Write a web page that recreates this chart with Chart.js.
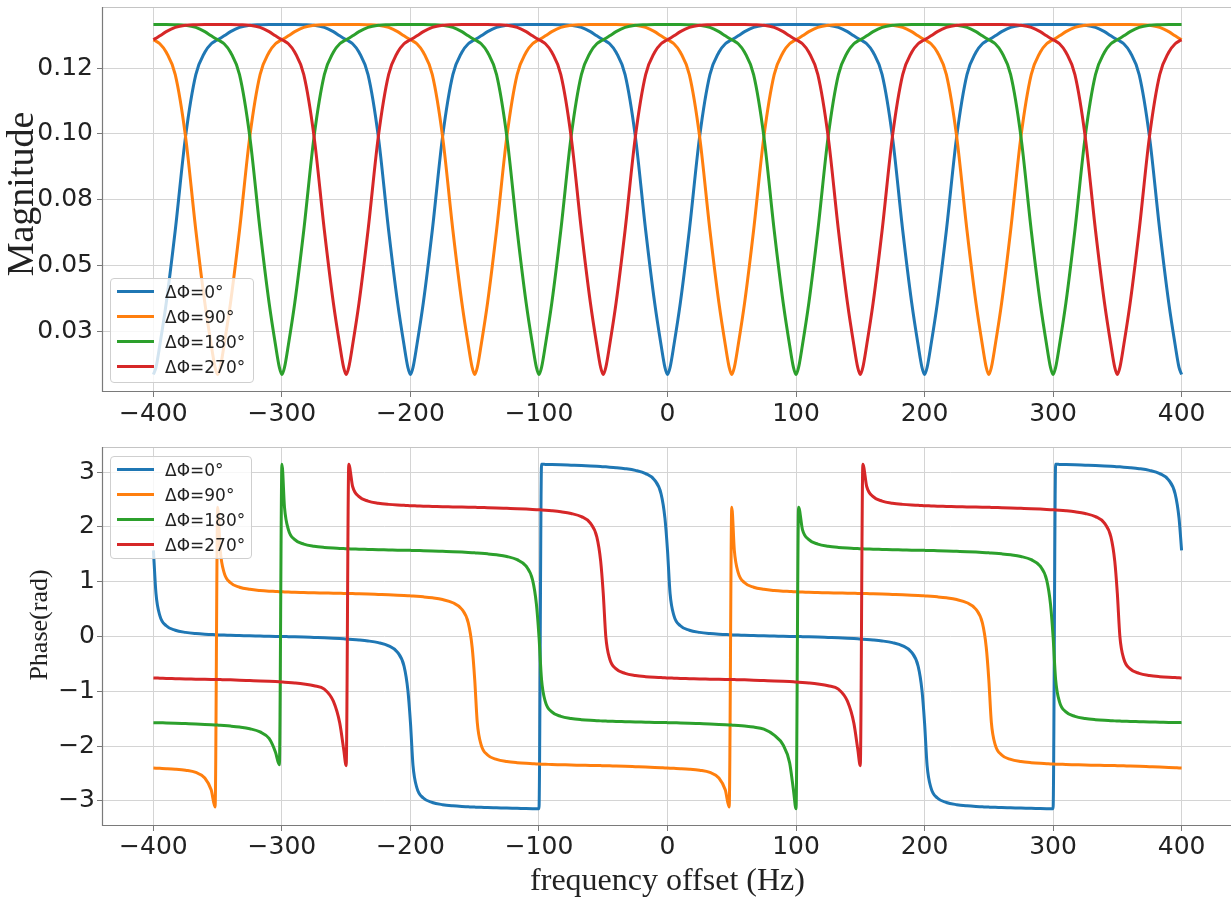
<!DOCTYPE html>
<html>
<head>
<meta charset="utf-8">
<script src="https://cdn.jsdelivr.net/npm/chart.js@4/dist/chart.umd.min.js"></script>
<style>
html,body{margin:0;padding:0;background:#fff;overflow:hidden;width:1231px;height:899px;}
#wrap{position:relative;width:1231px;height:899px;overflow:hidden;}
#wrap canvas{position:absolute;left:0;}
#c1{top:0;}
#c2{top:440px;}
.legend{position:absolute;background:rgba(255,255,255,0.8);border:1px solid #cfcfcf;border-radius:4px;box-sizing:border-box;font-family:'DejaVu Sans',sans-serif;font-size:17px;color:#222;z-index:5;}
.legend .sw{position:absolute;left:6px;width:37px;height:3px;}
.legend .tx{position:absolute;left:54px;white-space:nowrap;line-height:20px;}
</style>
</head>
<body>
<div id="wrap">
<canvas id="c1" width="1240" height="440"></canvas>
<canvas id="c2" width="1240" height="459"></canvas>
<div id="leg1" class="legend" style="left:110px;top:278px;width:144px;height:105px;"></div>
<div id="leg2" class="legend" style="left:110px;top:456px;width:142px;height:103px;"></div>
</div>
<script>
// ---------- data ----------
const freq = [
-400,-398,-395,-390,-383,-375,-367,-360,-355,-352,
-350,-348,-345,-340,-333,-325,-317,-310,-305,-302,
-300,-298,-295,-290,-283,-275,-267,-260,-255,-252,
-250,-248,-245,-240,-233,-225,-217,-210,-205,-202,
-200,-198,-195,-190,-183,-175,-167,-160,-155,-152,
-150,-148,-145,-140,-133,-125,-117,-110,-105,-102,
-100,-98,-95,-90,-83,-75,-67,-60,-55,-52,
-50,-48,-45,-40,-33,-25,-17,-10,-5,-2,
0,2,5,10,17,25,33,40,45,48,
50,52,55,60,67,75,83,90,95,98,
100,102,105,110,117,125,133,140,145,148,
150,152,155,160,167,175,183,190,195,198,
200,202,205,210,217,225,233,240,245,248,
250,252,255,260,267,275,283,290,295,298,
300,302,305,310,317,325,333,340,345,348,
350,352,355,360,367,375,383,390,395,398,
400];

const magBlue = [
0.0088,0.0115,0.020,0.036,0.0635,0.099,0.1225,0.1310,0.1342,0.1352,
0.1357,0.1363,0.1372,0.1388,0.1404,0.1412,0.1414,0.1415,0.1415,0.1415,
0.1415,0.1415,0.1415,0.1415,0.1414,0.1412,0.1404,0.1388,0.1372,0.1363,
0.1357,0.1352,0.1342,0.1310,0.1225,0.099,0.0635,0.036,0.020,0.0115,
0.0088,0.0115,0.020,0.036,0.0635,0.099,0.1225,0.1310,0.1342,0.1352,
0.1357,0.1363,0.1372,0.1388,0.1404,0.1412,0.1414,0.1415,0.1415,0.1415,
0.1415,0.1415,0.1415,0.1415,0.1414,0.1412,0.1404,0.1388,0.1372,0.1363,
0.1357,0.1352,0.1342,0.1310,0.1225,0.099,0.0635,0.036,0.020,0.0115,
0.0088,0.0115,0.020,0.036,0.0635,0.099,0.1225,0.1310,0.1342,0.1352,
0.1357,0.1363,0.1372,0.1388,0.1404,0.1412,0.1414,0.1415,0.1415,0.1415,
0.1415,0.1415,0.1415,0.1415,0.1414,0.1412,0.1404,0.1388,0.1372,0.1363,
0.1357,0.1352,0.1342,0.1310,0.1225,0.099,0.0635,0.036,0.020,0.0115,
0.0088,0.0115,0.020,0.036,0.0635,0.099,0.1225,0.1310,0.1342,0.1352,
0.1357,0.1363,0.1372,0.1388,0.1404,0.1412,0.1414,0.1415,0.1415,0.1415,
0.1415,0.1415,0.1415,0.1415,0.1414,0.1412,0.1404,0.1388,0.1372,0.1363,
0.1357,0.1352,0.1342,0.1310,0.1225,0.099,0.0635,0.036,0.020,0.0115,
0.0088];

const magOrange = [
0.1357,0.1352,0.1342,0.1310,0.1225,0.099,0.0635,0.036,0.020,0.0115,
0.0088,0.0115,0.020,0.036,0.0635,0.099,0.1225,0.1310,0.1342,0.1352,
0.1357,0.1363,0.1372,0.1388,0.1404,0.1412,0.1414,0.1415,0.1415,0.1415,
0.1415,0.1415,0.1415,0.1415,0.1414,0.1412,0.1404,0.1388,0.1372,0.1363,
0.1357,0.1352,0.1342,0.1310,0.1225,0.099,0.0635,0.036,0.020,0.0115,
0.0088,0.0115,0.020,0.036,0.0635,0.099,0.1225,0.1310,0.1342,0.1352,
0.1357,0.1363,0.1372,0.1388,0.1404,0.1412,0.1414,0.1415,0.1415,0.1415,
0.1415,0.1415,0.1415,0.1415,0.1414,0.1412,0.1404,0.1388,0.1372,0.1363,
0.1357,0.1352,0.1342,0.1310,0.1225,0.099,0.0635,0.036,0.020,0.0115,
0.0088,0.0115,0.020,0.036,0.0635,0.099,0.1225,0.1310,0.1342,0.1352,
0.1357,0.1363,0.1372,0.1388,0.1404,0.1412,0.1414,0.1415,0.1415,0.1415,
0.1415,0.1415,0.1415,0.1415,0.1414,0.1412,0.1404,0.1388,0.1372,0.1363,
0.1357,0.1352,0.1342,0.1310,0.1225,0.099,0.0635,0.036,0.020,0.0115,
0.0088,0.0115,0.020,0.036,0.0635,0.099,0.1225,0.1310,0.1342,0.1352,
0.1357,0.1363,0.1372,0.1388,0.1404,0.1412,0.1414,0.1415,0.1415,0.1415,
0.1415,0.1415,0.1415,0.1415,0.1414,0.1412,0.1404,0.1388,0.1372,0.1363,
0.1357];

const magGreen = [
0.1415,0.1415,0.1415,0.1415,0.1414,0.1412,0.1404,0.1388,0.1372,0.1363,
0.1357,0.1352,0.1342,0.1310,0.1225,0.099,0.0635,0.036,0.020,0.0115,
0.0088,0.0115,0.020,0.036,0.0635,0.099,0.1225,0.1310,0.1342,0.1352,
0.1357,0.1363,0.1372,0.1388,0.1404,0.1412,0.1414,0.1415,0.1415,0.1415,
0.1415,0.1415,0.1415,0.1415,0.1414,0.1412,0.1404,0.1388,0.1372,0.1363,
0.1357,0.1352,0.1342,0.1310,0.1225,0.099,0.0635,0.036,0.020,0.0115,
0.0088,0.0115,0.020,0.036,0.0635,0.099,0.1225,0.1310,0.1342,0.1352,
0.1357,0.1363,0.1372,0.1388,0.1404,0.1412,0.1414,0.1415,0.1415,0.1415,
0.1415,0.1415,0.1415,0.1415,0.1414,0.1412,0.1404,0.1388,0.1372,0.1363,
0.1357,0.1352,0.1342,0.1310,0.1225,0.099,0.0635,0.036,0.020,0.0115,
0.0088,0.0115,0.020,0.036,0.0635,0.099,0.1225,0.1310,0.1342,0.1352,
0.1357,0.1363,0.1372,0.1388,0.1404,0.1412,0.1414,0.1415,0.1415,0.1415,
0.1415,0.1415,0.1415,0.1415,0.1414,0.1412,0.1404,0.1388,0.1372,0.1363,
0.1357,0.1352,0.1342,0.1310,0.1225,0.099,0.0635,0.036,0.020,0.0115,
0.0088,0.0115,0.020,0.036,0.0635,0.099,0.1225,0.1310,0.1342,0.1352,
0.1357,0.1363,0.1372,0.1388,0.1404,0.1412,0.1414,0.1415,0.1415,0.1415,
0.1415];

const magRed = [
0.1357,0.1363,0.1372,0.1388,0.1404,0.1412,0.1414,0.1415,0.1415,0.1415,
0.1415,0.1415,0.1415,0.1415,0.1414,0.1412,0.1404,0.1388,0.1372,0.1363,
0.1357,0.1352,0.1342,0.1310,0.1225,0.099,0.0635,0.036,0.020,0.0115,
0.0088,0.0115,0.020,0.036,0.0635,0.099,0.1225,0.1310,0.1342,0.1352,
0.1357,0.1363,0.1372,0.1388,0.1404,0.1412,0.1414,0.1415,0.1415,0.1415,
0.1415,0.1415,0.1415,0.1415,0.1414,0.1412,0.1404,0.1388,0.1372,0.1363,
0.1357,0.1352,0.1342,0.1310,0.1225,0.099,0.0635,0.036,0.020,0.0115,
0.0088,0.0115,0.020,0.036,0.0635,0.099,0.1225,0.1310,0.1342,0.1352,
0.1357,0.1363,0.1372,0.1388,0.1404,0.1412,0.1414,0.1415,0.1415,0.1415,
0.1415,0.1415,0.1415,0.1415,0.1414,0.1412,0.1404,0.1388,0.1372,0.1363,
0.1357,0.1352,0.1342,0.1310,0.1225,0.099,0.0635,0.036,0.020,0.0115,
0.0088,0.0115,0.020,0.036,0.0635,0.099,0.1225,0.1310,0.1342,0.1352,
0.1357,0.1363,0.1372,0.1388,0.1404,0.1412,0.1414,0.1415,0.1415,0.1415,
0.1415,0.1415,0.1415,0.1415,0.1414,0.1412,0.1404,0.1388,0.1372,0.1363,
0.1357,0.1352,0.1342,0.1310,0.1225,0.099,0.0635,0.036,0.020,0.0115,
0.0088,0.0115,0.020,0.036,0.0635,0.099,0.1225,0.1310,0.1342,0.1352,
0.1357];

const phaseBlue = [
1.571,0.785,0.380,0.196,0.114,0.075,0.054,0.042,0.036,0.032,
0.030,0.028,0.026,0.021,0.017,0.012,0.008,0.004,0.002,0.001,
0.000,-0.001,-0.003,-0.006,-0.011,-0.018,-0.025,-0.032,-0.038,-0.042,
-0.045,-0.048,-0.053,-0.063,-0.081,-0.112,-0.170,-0.289,-0.539,-0.982,
-1.571,-2.357,-2.762,-2.946,-3.028,-3.067,-3.088,-3.100,-3.106,-3.110,
-3.112,-3.114,-3.116,-3.121,-3.125,-3.130,-3.134,-3.138,-3.140,-3.141,
-3.141,3.141,3.139,3.136,3.131,3.124,3.117,3.110,3.104,3.100,
3.097,3.094,3.089,3.079,3.061,3.030,2.972,2.853,2.603,2.160,
1.571,0.785,0.380,0.196,0.114,0.075,0.054,0.042,0.036,0.032,
0.030,0.028,0.026,0.021,0.017,0.012,0.008,0.004,0.002,0.001,
0.000,-0.001,-0.003,-0.006,-0.011,-0.018,-0.025,-0.032,-0.038,-0.042,
-0.045,-0.048,-0.053,-0.063,-0.081,-0.112,-0.170,-0.289,-0.539,-0.982,
-1.571,-2.357,-2.762,-2.946,-3.028,-3.067,-3.088,-3.100,-3.106,-3.110,
-3.112,-3.114,-3.116,-3.121,-3.125,-3.130,-3.134,-3.138,-3.140,-3.141,
-3.141,3.141,3.139,3.136,3.131,3.124,3.117,3.110,3.104,3.100,
3.097,3.094,3.089,3.079,3.061,3.030,2.972,2.853,2.603,2.160,
1.571];

const phaseOrange = [
-2.400,-2.402,-2.405,-2.410,-2.420,-2.440,-2.480,-2.580,-2.800,-3.110,
2.356,1.570,1.165,0.981,0.899,0.860,0.839,0.827,0.821,0.817,
0.815,0.813,0.811,0.806,0.802,0.797,0.793,0.789,0.787,0.786,
0.786,0.785,0.783,0.780,0.775,0.768,0.761,0.754,0.748,0.744,
0.741,0.738,0.733,0.723,0.705,0.674,0.616,0.497,0.247,-0.196,
-0.785,-1.571,-1.976,-2.160,-2.242,-2.281,-2.302,-2.314,-2.320,-2.324,
-2.326,-2.328,-2.330,-2.335,-2.339,-2.344,-2.348,-2.352,-2.354,-2.355,
-2.356,-2.357,-2.359,-2.362,-2.367,-2.374,-2.381,-2.388,-2.394,-2.398,
-2.400,-2.402,-2.405,-2.410,-2.420,-2.440,-2.480,-2.580,-2.800,-3.110,
2.356,1.570,1.165,0.981,0.899,0.860,0.839,0.827,0.821,0.817,
0.815,0.813,0.811,0.806,0.802,0.797,0.793,0.789,0.787,0.786,
0.786,0.785,0.783,0.780,0.775,0.768,0.761,0.754,0.748,0.744,
0.741,0.738,0.733,0.723,0.705,0.674,0.616,0.497,0.247,-0.196,
-0.785,-1.571,-1.976,-2.160,-2.242,-2.281,-2.302,-2.314,-2.320,-2.324,
-2.326,-2.328,-2.330,-2.335,-2.339,-2.344,-2.348,-2.352,-2.354,-2.355,
-2.356,-2.357,-2.359,-2.362,-2.367,-2.374,-2.381,-2.388,-2.394,-2.398,
-2.400];

const phaseGreen = [
-1.571,-1.572,-1.574,-1.577,-1.582,-1.589,-1.596,-1.603,-1.609,-1.613,
-1.616,-1.619,-1.624,-1.634,-1.652,-1.683,-1.741,-1.860,-2.110,-2.340,
3.142,2.356,1.951,1.767,1.685,1.646,1.625,1.613,1.607,1.603,
1.601,1.599,1.597,1.592,1.588,1.583,1.579,1.575,1.573,1.572,
1.571,1.570,1.568,1.565,1.560,1.553,1.546,1.539,1.533,1.529,
1.526,1.523,1.518,1.508,1.490,1.459,1.401,1.282,1.032,0.589,
0.000,-0.786,-1.191,-1.375,-1.457,-1.496,-1.517,-1.529,-1.535,-1.539,
-1.541,-1.543,-1.545,-1.550,-1.554,-1.559,-1.563,-1.567,-1.569,-1.570,
-1.571,-1.572,-1.574,-1.577,-1.582,-1.589,-1.596,-1.603,-1.609,-1.613,
-1.616,-1.619,-1.624,-1.634,-1.652,-1.690,-1.800,-1.980,-2.300,-2.800,
-3.142,2.356,1.951,1.767,1.685,1.646,1.625,1.613,1.607,1.603,
1.601,1.599,1.597,1.592,1.588,1.583,1.579,1.575,1.573,1.572,
1.571,1.570,1.568,1.565,1.560,1.553,1.546,1.539,1.533,1.529,
1.526,1.523,1.518,1.508,1.490,1.459,1.401,1.282,1.032,0.589,
0.000,-0.786,-1.191,-1.375,-1.457,-1.496,-1.517,-1.529,-1.535,-1.539,
-1.541,-1.543,-1.545,-1.550,-1.554,-1.559,-1.563,-1.567,-1.569,-1.570,
-1.571];

const phaseRed = [
-0.756,-0.758,-0.760,-0.765,-0.769,-0.774,-0.778,-0.782,-0.784,-0.785,
-0.785,-0.786,-0.788,-0.791,-0.796,-0.803,-0.810,-0.817,-0.823,-0.827,
-0.830,-0.833,-0.838,-0.848,-0.866,-0.897,-0.960,-1.180,-1.580,-2.050,
-2.356,3.141,2.736,2.552,2.470,2.431,2.410,2.398,2.392,2.388,
2.386,2.384,2.382,2.377,2.373,2.368,2.364,2.360,2.358,2.357,
2.356,2.355,2.353,2.350,2.345,2.338,2.331,2.324,2.318,2.314,
2.311,2.308,2.303,2.293,2.275,2.244,2.186,2.067,1.817,1.374,
0.785,-0.001,-0.406,-0.590,-0.672,-0.711,-0.732,-0.744,-0.750,-0.754,
-0.756,-0.758,-0.760,-0.765,-0.769,-0.774,-0.778,-0.782,-0.784,-0.785,
-0.785,-0.786,-0.788,-0.791,-0.796,-0.803,-0.810,-0.817,-0.823,-0.827,
-0.830,-0.833,-0.838,-0.848,-0.866,-0.897,-0.960,-1.180,-1.580,-2.050,
-2.356,3.141,2.736,2.552,2.470,2.431,2.410,2.398,2.392,2.388,
2.386,2.384,2.382,2.377,2.373,2.368,2.364,2.360,2.358,2.357,
2.356,2.355,2.353,2.350,2.345,2.338,2.331,2.324,2.318,2.314,
2.311,2.308,2.303,2.293,2.275,2.244,2.186,2.067,1.817,1.374,
0.785,-0.001,-0.406,-0.590,-0.672,-0.711,-0.732,-0.744,-0.750,-0.754,
-0.756];

const seriesNames = ['ΔΦ=0°','ΔΦ=90°','ΔΦ=180°','ΔΦ=270°'];
const seriesColors = ['#1f77b4','#ff7f0e','#2ca02c','#d62728'];

const xTickValues = [-400,-300,-200,-100,0,100,200,300,400];
const xTickLabels = ['−400','−300','−200','−100','0','100','200','300','400'];
const magTickValues = [0.025,0.05,0.075,0.1,0.125];
const magTickLabels = ['0.03','0.05','0.08','0.10','0.12'];
const phaseTickValues = [-3,-2,-1,0,1,2,3];
const phaseTickLabels = ['−3','−2','−1','0','1','2','3'];

// ---------- styling / layout ----------
const GRID = '#d4d4d4';
const SPINE_DARK = '#7a7a7a';
const SPINE_LIGHT = '#c4c4c4';
const TICK_FONT = {family:'DejaVu Sans', size:25};
const TEXT = '#222222';

const framePlugin = {
  id:'frame',
  afterDatasetsDraw(chart){
    const {ctx, chartArea:a} = chart;
    ctx.save();
    ctx.lineWidth = 1.2;
    ctx.strokeStyle = SPINE_LIGHT;
    ctx.beginPath(); ctx.moveTo(a.left, a.top+0.5); ctx.lineTo(a.right, a.top+0.5); ctx.stroke();
    ctx.beginPath(); ctx.moveTo(a.right-0.5, a.top); ctx.lineTo(a.right-0.5, a.bottom); ctx.stroke();
    ctx.strokeStyle = SPINE_DARK;
    ctx.beginPath(); ctx.moveTo(a.left+0.5, a.top); ctx.lineTo(a.left+0.5, a.bottom); ctx.stroke();
    ctx.beginPath(); ctx.moveTo(a.left, a.bottom-0.5); ctx.lineTo(a.right, a.bottom-0.5); ctx.stroke();
    ctx.restore();
  }
};

// vertical axis title drawn at a chosen centre (matches the reference placement)
const yTitlePlugin = {
  id:'yTitle',
  afterDraw(chart, args, opts){
    const ctx = chart.ctx;
    ctx.save();
    ctx.translate(opts.x, opts.y);
    ctx.rotate(-Math.PI/2);
    ctx.font = opts.size + 'px "Liberation Serif"';
    ctx.fillStyle = TEXT;
    ctx.textAlign = 'center';
    ctx.textBaseline = 'middle';
    ctx.fillText(opts.text, 0, 0);
    ctx.restore();
  }
};

function makeDatasets(arrs){
  return arrs.map((ys,i)=>({
    label: seriesNames[i],
    data: freq.map((x,j)=>({x:x, y:ys[j]})),
    borderColor: seriesColors[i],
    backgroundColor: seriesColors[i],
    borderWidth: 3,
    pointRadius: 0,
    fill: false,
    cubicInterpolationMode: 'monotone',
    order: arrs.length - i
  }));
}

function makeOptions(cfg){
  return {
    responsive:false, animation:false, events:[],
    layout:{padding:{left:0, right:7, top:7, bottom:0}},
    plugins:{legend:{display:false}, tooltip:{enabled:false},
      yTitle:{text:cfg.yTitle, size:cfg.yTitleSize, x:cfg.yTitleX, y:cfg.yTitleY}},
    scales:{
      x:{
        type:'linear', min:-440, max:440,
        afterBuildTicks:(s)=>{ s.ticks = xTickValues.map(v=>({value:v})); },
        afterFit:(s)=>{ s.height = cfg.xHeight; s.paddingLeft = 0; s.paddingRight = 0; },
        ticks:{autoSkip:false, maxRotation:0, padding:cfg.xTickPad, color:TEXT, font:TICK_FONT,
               callback:(v,i)=>xTickLabels[i]},
        grid:{color:GRID, lineWidth:1, tickLength:5, tickColor:SPINE_DARK},
        border:{display:false},
        title:{display:!!cfg.xTitle, text:cfg.xTitle||'', color:TEXT,
               font:{family:'Liberation Serif', size:32, lineHeight:1},
               padding:{top:0, bottom:cfg.xTitlePad||0}}
      },
      y:{
        type:'linear', min:cfg.yMin, max:cfg.yMax,
        afterBuildTicks:(s)=>{ s.ticks = cfg.yTicks.map(v=>({value:v})); },
        afterFit:(s)=>{ s.width = 102; s.paddingTop = 0; s.paddingBottom = 0; },
        ticks:{autoSkip:false, padding:cfg.yTickPad, color:TEXT, font:TICK_FONT,
               callback:(v,i)=>cfg.yLabels[i]},
        grid:{color:GRID, lineWidth:1, tickLength:5, tickColor:SPINE_DARK},
        border:{display:false},
        title:{display:false}
      }
    }
  };
}

new Chart(document.getElementById('c1'), {
  type:'line',
  data:{datasets: makeDatasets([magBlue, magOrange, magGreen, magRed])},
  options: makeOptions({xHeight:48, xTickPad:2, yMin:0.002165, yMax:0.148135,
    yTicks:magTickValues, yLabels:magTickLabels, yTickPad:4,
    yTitle:'Magnitude', yTitleSize:38, yTitleX:23, yTitleY:194}),
  plugins:[framePlugin, yTitlePlugin]
});

new Chart(document.getElementById('c2'), {
  type:'line',
  data:{datasets: makeDatasets([phaseBlue, phaseOrange, phaseGreen, phaseRed])},
  options: makeOptions({xHeight:73, xTickPad:1, yMin:-3.4564, yMax:3.4564,
    yTicks:phaseTickValues, yLabels:phaseTickLabels, yTickPad:2,
    yTitle:'Phase(rad)', yTitleSize:26, yTitleX:40, yTitleY:185,
    xTitle:'frequency offset (Hz)', xTitlePad:1}),
  plugins:[framePlugin, yTitlePlugin]
});

// ---------- legends (HTML overlay, built from the series arrays) ----------
function buildLegend(id){
  const box = document.getElementById(id);
  seriesNames.forEach((name,i)=>{
    const cy = 13.5 + i*25;
    const sw = document.createElement('div');
    sw.className='sw'; sw.style.background=seriesColors[i]; sw.style.top=(cy-1.5-1)+'px';
    const tx = document.createElement('div');
    tx.className='tx'; tx.textContent=name; tx.style.top=(cy-10-1)+'px';
    box.appendChild(sw); box.appendChild(tx);
  });
}
buildLegend('leg1');
buildLegend('leg2');
</script>
</body>
</html>
